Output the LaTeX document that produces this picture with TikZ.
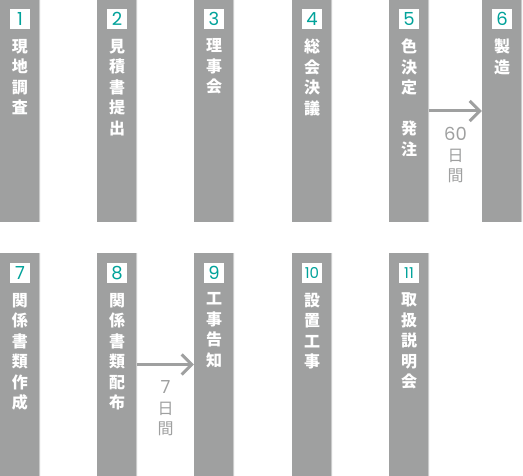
\documentclass[tikz,border=0pt]{standalone}
\usepackage{fontspec}
\newfontfamily\jpfont{Noto Sans CJK JP}
\newfontfamily\numfont{Poppins}
\usepackage{xcolor}
\usepackage{tikz}
\usetikzlibrary{positioning,arrows.meta}

\definecolor{barc}{HTML}{9FA0A0}
\definecolor{edgec}{HTML}{CACBCB}
\definecolor{numc}{HTML}{00A29A}

\tikzset{
  bar/.style={fill=barc, minimum width=40pt, minimum height=222pt, inner sep=0pt,
    path picture={\draw[edgec, line width=2pt] (path picture bounding box.north east) -- (path picture bounding box.south east);}},
  numbox/.style={fill=white, minimum size=20pt, inner sep=0pt, text=numc, font=\numfont\fontsize{18}{18}\selectfont},
  smallnum/.style={font=\numfont\fontsize{15}{15}\selectfont},
  steptext/.style={text=white, inner sep=0pt, align=center, font=\jpfont\bfseries\fontsize{16}{20.5}\selectfont},
  flow/.style={barc, line width=3pt, -{Straight Barb[length=10pt,width=20pt]}},
  daylabel/.style={text=barc, inner sep=0pt, align=center, font=\jpfont\fontsize{16}{20.5}\selectfont}
}

\begin{document}
\begin{tikzpicture}[x=1pt,y=1pt]
    \useasboundingbox (0,0) rectangle (523,-476);

    % top row
    \node[bar] (b1) at (20,-111) {};
    \node[bar] (b2) at (117,-111) {};
    \node[bar] (b3) at (214,-111) {};
    \node[bar] (b4) at (312,-111) {};
    \node[bar] (b5) at (409,-111) {};
    \node[bar] (b6) at (502,-111) {};

    \node[numbox, below=9pt of b1.north] (n1) {1};
    \node[numbox, below=9pt of b2.north] (n2) {2};
    \node[numbox, below=9pt of b3.north] (n3) {3};
    \node[numbox, below=9pt of b4.north] (n4) {4};
    \node[numbox, below=9pt of b5.north] (n5) {5};
    \node[numbox, below=9pt of b6.north] (n6) {6};

    \node[steptext, below=9.5pt of n1] (t1) {現\\地\\調\\査};
    \node[steptext, below=9.5pt of n2] (t2) {見\\積\\書\\提\\出};
    \node[steptext, below=9.5pt of n3] (t3) {理\\事\\会};
    \node[steptext, below=9.5pt of n4] (t4) {総\\会\\決\\議};
    \node[steptext, below=9.5pt of n5] (t5) {色\\決\\定\\[20.5pt]発\\注};
    \node[steptext, below=9.5pt of n6] (t6) {製\\造};

    \draw[flow] (b5.east) -- (b6.west) node[daylabel, midway, below=15pt] (d1) {{\numfont\fontsize{18}{20.5}\selectfont 60}\\日\\間};

    % bottom row
    \node[bar, minimum height=223pt] (b7) at (20,-364.5) {};
    \node[bar, minimum height=223pt] (b8) at (117,-364.5) {};
    \node[bar, minimum height=223pt] (b9) at (214,-364.5) {};
    \node[bar, minimum height=223pt] (b10) at (312,-364.5) {};
    \node[bar, minimum height=223pt] (b11) at (409,-364.5) {};

    \node[numbox, below=10pt of b7.north] (n7) {7};
    \node[numbox, below=10pt of b8.north] (n8) {8};
    \node[numbox, below=10pt of b9.north] (n9) {9};
    \node[numbox, smallnum, below=10pt of b10.north] (n10) {10};
    \node[numbox, smallnum, below=10pt of b11.north] (n11) {11};

    \node[steptext, below=9.5pt of n7] (t7) {関\\係\\書\\類\\作\\成};
    \node[steptext, below=9.5pt of n8] (t8) {関\\係\\書\\類\\配\\布};
    \node[steptext, below=9.5pt of n9] (t9) {工\\事\\告\\知};
    \node[steptext, below=9.5pt of n10] (t10) {設\\置\\工\\事};
    \node[steptext, below=9.5pt of n11] (t11) {取\\扱\\説\\明\\会};

    \draw[flow] (b8.east) -- (b9.west) node[daylabel, midway, below=15pt] (d2) {{\numfont\fontsize{18}{20.5}\selectfont 7}\\日\\間};
\end{tikzpicture}
\end{document}
